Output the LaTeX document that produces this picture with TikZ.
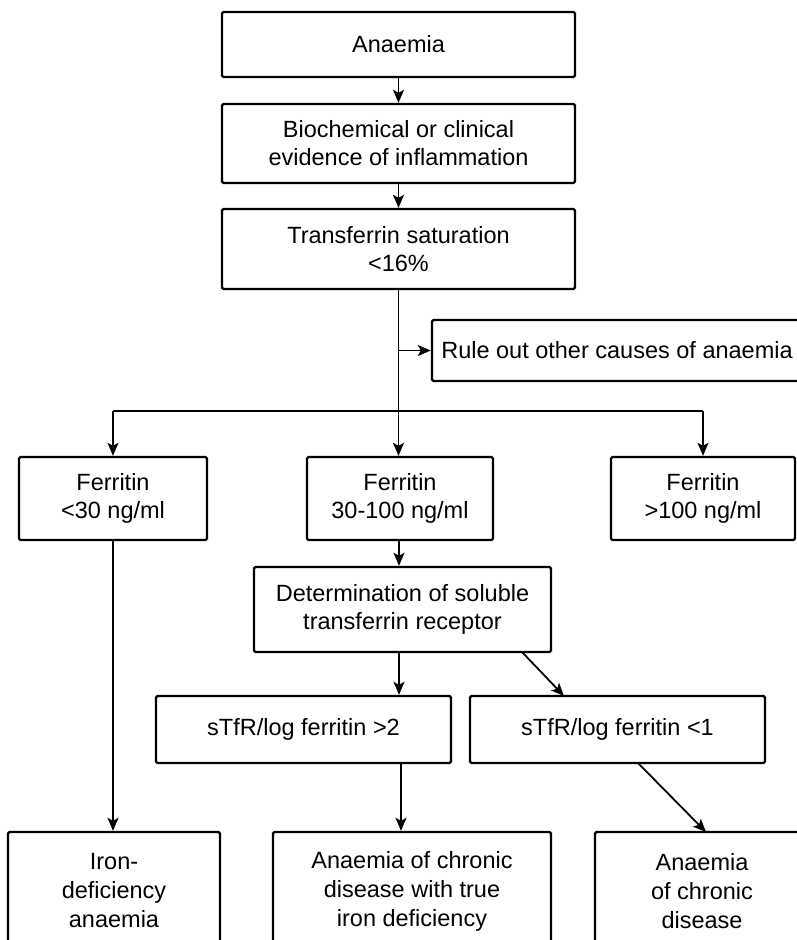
\documentclass[tikz,border=0pt]{standalone}
\usepackage{fontspec}
\setmainfont{Liberation Sans}
\usetikzlibrary{arrows.meta,calc}
\begin{document}
\begin{tikzpicture}[x=1pt,y=-1pt,
  box/.style={draw,line width=2.4pt,rounded corners=1.5pt,inner sep=0pt,align=center,
    font=\fontsize{23.5}{28}\selectfont},
  tall/.style={font=\fontsize{23.5}{29}\selectfont},
  conn/.style={line width=1.8pt,-{Stealth[length=13pt,width=11pt,inset=3pt]}},
  plain/.style={line width=1.8pt}]
\useasboundingbox (0,0) rectangle (796,940);
\node[box,minimum width=353pt,minimum height=65pt] (a1) at (398.5,44.5) {Anaemia};
\node[box,minimum width=353pt,minimum height=79pt] (a2) at (398.5,143.5) {Biochemical or clinical\\evidence of inflammation};
\node[box,minimum width=353pt,minimum height=80pt] (a3) at (398.5,249) {Transferrin saturation\\<16\%};
\node[box,minimum width=370pt,minimum height=61pt] (rule) at (617,350.5) {Rule out other causes of anaemia};
\node[box,minimum width=188pt,minimum height=83pt] (f1) at (113,498.5) {Ferritin\\<30 ng/ml};
\node[box,minimum width=186pt,minimum height=83pt] (f2) at (400,498.5) {Ferritin\\30-100 ng/ml};
\node[box,minimum width=184pt,minimum height=83pt] (f3) at (703,498.5) {Ferritin\\>100 ng/ml};
\node[box,minimum width=297pt,minimum height=85pt] (det) at (402.5,609.5) {Determination of soluble\\transferrin receptor};
\node[box,minimum width=295pt,minimum height=67pt] (s1) at (303.5,729.5) {sTfR/log ferritin >2};
\node[box,minimum width=295pt,minimum height=67pt] (s2) at (617.5,729.5) {sTfR/log ferritin <1};
\node[box,tall,minimum width=212pt,minimum height=118pt] (b1) at (114,891) {Iron-\\deficiency\\anaemia};
\node[box,tall,minimum width=278pt,minimum height=118pt] (b2) at (412,891) {Anaemia of chronic\\disease with true\\iron deficiency};
\node[box,tall,minimum width=214pt,minimum height=118pt] (b3) at (702,891) {Anaemia\\of chronic\\disease};
% connectors
\draw[conn] (a1.south) -- (a2.north);
\draw[conn] (a2.south) -- (a3.north);
\draw[conn] (a3.south) -- (a3.south |- f2.north);
\draw[conn] (a3.south |- rule.west) -- (rule.west);
\coordinate (brL) at (113,411);
\coordinate (brR) at (703,411);
\draw[plain] (brL) -- (brR);
\draw[conn] (brL) -- (f1.north);
\draw[conn] (brR) -- (f3.north);
\draw[conn] (f2.south -| 399,0) -- (det.north -| 399,0);
\draw[conn] (det.south -| 399,0) -- (s1.north -| 399,0);
\coordinate (d1) at (522,652);
\coordinate (d2) at (564,696);
\draw[conn] (d1) -- (d2);
\draw[conn] (f1.south) -- (b1.north -| f1.south);
\draw[conn] (s1.south -| 401,0) -- (b2.north -| 401,0);
\coordinate (e1) at (638,763);
\coordinate (e2) at (706,832);
\draw[conn] (e1) -- (e2);
\end{tikzpicture}
\end{document}
